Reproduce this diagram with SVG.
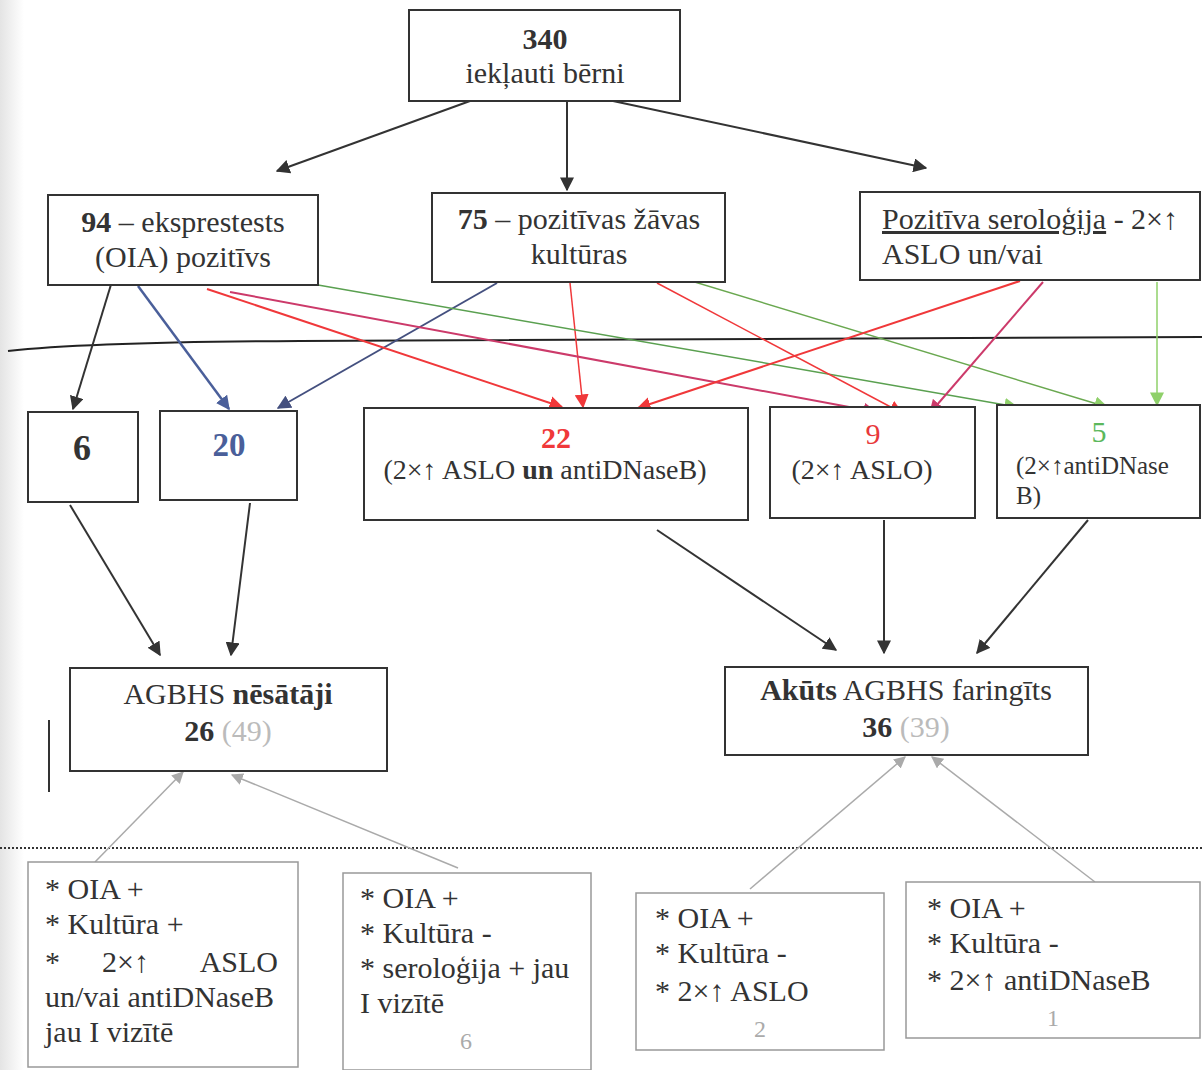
<svg xmlns="http://www.w3.org/2000/svg" width="1202" height="1070" viewBox="0 0 1202 1070">
<style>
text{font-family:"Liberation Serif","Times New Roman",serif;font-size:30px;fill:#333}
.b{font-weight:bold}
.box{fill:#fff;stroke:#333;stroke-width:2}
.gbox{fill:#fff;stroke:#999;stroke-width:1.5}
.c{text-anchor:middle}
.k{stroke:#333;stroke-width:2;fill:none}
.g{fill:#aaa}
.s28{font-size:28px}
</style>
<defs>
<linearGradient id="shade" x1="0" x2="1" y1="0" y2="0">
<stop offset="0" stop-color="#e4e4e4"/><stop offset="1" stop-color="#fff"/>
</linearGradient>
<marker id="aK2" viewBox="0 0 10 10" refX="9" refY="5" markerWidth="14" markerHeight="14" markerUnits="userSpaceOnUse" orient="auto"><path d="M0,0L10,5L0,10z" fill="#333"/></marker>
<marker id="aB" viewBox="0 0 10 10" refX="9" refY="5" markerWidth="14" markerHeight="14" markerUnits="userSpaceOnUse" orient="auto"><path d="M0,0L10,5L0,10z" fill="#4a5f9a"/></marker>
<marker id="aN" viewBox="0 0 10 10" refX="9" refY="5" markerWidth="14" markerHeight="14" markerUnits="userSpaceOnUse" orient="auto"><path d="M0,0L10,5L0,10z" fill="#44507f"/></marker>
<marker id="aR" viewBox="0 0 10 10" refX="9" refY="5" markerWidth="14" markerHeight="14" markerUnits="userSpaceOnUse" orient="auto"><path d="M0,0L10,5L0,10z" fill="#f0383a"/></marker>
<marker id="aM" viewBox="0 0 10 10" refX="9" refY="5" markerWidth="14" markerHeight="14" markerUnits="userSpaceOnUse" orient="auto"><path d="M0,0L10,5L0,10z" fill="#cc3a6a"/></marker>
<marker id="aG" viewBox="0 0 10 10" refX="9" refY="5" markerWidth="14" markerHeight="14" markerUnits="userSpaceOnUse" orient="auto"><path d="M0,0L10,5L0,10z" fill="#8fd06a"/></marker>
<marker id="aY" viewBox="0 0 10 10" refX="9" refY="5" markerWidth="12" markerHeight="12" markerUnits="userSpaceOnUse" orient="auto"><path d="M0,0L10,5L0,10z" fill="#aaa"/></marker>
</defs>
<rect width="1202" height="1070" fill="#fff"/>
<rect x="0" y="0" width="24" height="1070" fill="url(#shade)"/>

<g id="separators">
<path d="M8,351 Q90,342 300,341 L1202,337" stroke="#222" stroke-width="2" fill="none"/>
<line x1="0" y1="848" x2="1202" y2="848" stroke="#333" stroke-width="2" stroke-dasharray="2,2"/>
<line x1="49" y1="720" x2="49" y2="792" stroke="#333" stroke-width="2"/>
</g>

<g id="connectors">
<line class="k" x1="470" y1="101" x2="277" y2="171" marker-end="url(#aK2)"/>
<line class="k" x1="567" y1="101" x2="567" y2="190" marker-end="url(#aK2)"/>
<line class="k" x1="613" y1="101" x2="926" y2="168" marker-end="url(#aK2)"/>

<line class="k" x1="113" y1="278" x2="73" y2="409" marker-end="url(#aK2)"/>
<line x1="138" y1="286" x2="229" y2="409" stroke="#4a5f9a" stroke-width="2.5" marker-end="url(#aB)"/>
<line x1="497" y1="283" x2="278" y2="408" stroke="#44507f" stroke-width="2" marker-end="url(#aN)"/>
<line x1="207" y1="289" x2="562" y2="407" stroke="#f0383a" stroke-width="2" marker-end="url(#aR)"/>
<line x1="570" y1="283" x2="583" y2="407" stroke="#f0383a" stroke-width="1.5" marker-end="url(#aR)"/>
<line x1="230" y1="292" x2="876" y2="412" stroke="#cc3a6a" stroke-width="2" marker-end="url(#aM)"/>
<line x1="318" y1="285" x2="1017" y2="407" stroke="#5aa050" stroke-width="1.5" marker-end="url(#aG)"/>
<line x1="657" y1="283" x2="902" y2="413" stroke="#f0383a" stroke-width="1.5" marker-end="url(#aR)"/>
<line x1="655" y1="270" x2="1107" y2="407" stroke="#6aa850" stroke-width="1.5" marker-end="url(#aG)"/>
<line x1="1020" y1="281" x2="638" y2="408" stroke="#f0383a" stroke-width="2" marker-end="url(#aR)"/>
<line x1="1043" y1="282" x2="930" y2="413" stroke="#cc3a6a" stroke-width="2" marker-end="url(#aM)"/>
<line x1="1157" y1="282" x2="1157" y2="405" stroke="#8fd06a" stroke-width="1.5" marker-end="url(#aG)"/>

<line class="k" x1="70" y1="505" x2="160" y2="655" marker-end="url(#aK2)"/>
<line class="k" x1="250" y1="503" x2="231" y2="655" marker-end="url(#aK2)"/>
<line class="k" x1="657" y1="530" x2="836" y2="650" marker-end="url(#aK2)"/>
<line class="k" x1="884" y1="520" x2="884" y2="653" marker-end="url(#aK2)"/>
<line class="k" x1="1088" y1="520" x2="977" y2="653" marker-end="url(#aK2)"/>

<line x1="95" y1="862" x2="183" y2="772" stroke="#aaa" stroke-width="1.5" marker-end="url(#aY)"/>
<line x1="458" y1="868" x2="232" y2="775" stroke="#aaa" stroke-width="1.5" marker-end="url(#aY)"/>
<line x1="750" y1="889" x2="905" y2="757" stroke="#aaa" stroke-width="1.5" marker-end="url(#aY)"/>
<line x1="1095" y1="882" x2="932" y2="757" stroke="#aaa" stroke-width="1.5" marker-end="url(#aY)"/>
</g>

<g id="n340">
<rect class="box" x="409" y="10" width="271" height="91"/>
<text class="c b" x="545" y="49">340</text>
<text class="c" x="545" y="83">iekļauti bērni</text>
</g>

<g id="n94">
<rect class="box" x="48" y="195" width="270" height="90"/>
<text class="c" x="183" y="232"><tspan class="b">94</tspan> – eksprestests</text>
<text class="c" x="183" y="267">(OIA) pozitīvs</text>
</g>

<g id="n75">
<rect class="box" x="432" y="193" width="293" height="89"/>
<text class="c" x="579" y="229"><tspan class="b">75</tspan> – pozitīvas žāvas</text>
<text class="c" x="579" y="264">kultūras</text>
</g>

<g id="nsero">
<rect class="box" x="860" y="192" width="340" height="88"/>
<text x="882" y="229"><tspan text-decoration="underline">Pozitīva seroloģija</tspan> - 2×↑</text>
<text x="882" y="264">ASLO un/vai</text>
</g>

<g id="n6">
<rect class="box" x="28" y="412" width="110" height="90"/>
<text class="c b" x="82" y="460" style="font-size:36px">6</text>
</g>

<g id="n20">
<rect class="box" x="160" y="411" width="137" height="89"/>
<text class="c b" x="229" y="456" style="font-size:33px;fill:#4a5f9a">20</text>
</g>

<g id="n22">
<rect class="box" x="364" y="408" width="384" height="112"/>
<text class="c b" x="556" y="448" style="fill:#f0383a">22</text>
<text class="c s28" x="545" y="479">(2×↑ ASLO <tspan class="b">un</tspan> antiDNaseB)</text>
</g>

<g id="n9">
<rect class="box" x="770" y="407" width="205" height="111"/>
<text class="c" x="873" y="444" style="fill:#e8383a">9</text>
<text class="c s28" x="862" y="479">(2×↑ ASLO)</text>
</g>

<g id="n5">
<rect class="box" x="997" y="405" width="203" height="113"/>
<text class="c" x="1099" y="442" style="fill:#5cb85c">5</text>
<text x="1016" y="474" style="font-size:25px">(2×↑antiDNase</text>
<text x="1016" y="504" style="font-size:25px">B)</text>
</g>

<g id="ncarriers">
<rect class="box" x="70" y="668" width="317" height="103"/>
<text class="c" x="228" y="704">AGBHS <tspan class="b">nēsātāji</tspan></text>
<text class="c" x="228" y="741"><tspan class="b">26</tspan> <tspan style="fill:#bbb">(49)</tspan></text>
</g>

<g id="nacute">
<rect class="box" x="725" y="667" width="363" height="88"/>
<text class="c" x="906" y="700"><tspan class="b">Akūts</tspan> AGBHS faringīts</text>
<text class="c" x="906" y="737"><tspan class="b">36</tspan> <tspan style="fill:#bbb">(39)</tspan></text>
</g>

<g id="b1">
<rect class="gbox" x="28" y="862" width="270" height="205"/>
<text x="45" y="899">* OIA +</text>
<text x="45" y="934">* Kultūra +</text>
<text x="45" y="972">*</text>
<text x="102" y="972">2×↑</text>
<text x="278" y="972" style="text-anchor:end">ASLO</text>
<text x="45" y="1007">un/vai antiDNaseB</text>
<text x="45" y="1042">jau I vizītē</text>
</g>

<g id="b2">
<rect class="gbox" x="343" y="873" width="248" height="197"/>
<text x="360" y="908">* OIA +</text>
<text x="360" y="943">* Kultūra -</text>
<text x="360" y="978">* seroloģija + jau</text>
<text x="360" y="1013">I vizītē</text>
<text class="c g" x="466" y="1049" style="font-size:24px">6</text>
</g>

<g id="b3">
<rect class="gbox" x="636" y="893" width="248" height="157"/>
<text x="655" y="928">* OIA +</text>
<text x="655" y="963">* Kultūra -</text>
<text x="655" y="1001">* 2×↑ ASLO</text>
<text class="c g" x="760" y="1037" style="font-size:24px">2</text>
</g>

<g id="b4">
<rect class="gbox" x="906" y="882" width="294" height="156"/>
<text x="927" y="918">* OIA +</text>
<text x="927" y="953">* Kultūra -</text>
<text x="927" y="990">* 2×↑ antiDNaseB</text>
<text class="c g" x="1053" y="1026" style="font-size:24px">1</text>
</g>
</svg>
